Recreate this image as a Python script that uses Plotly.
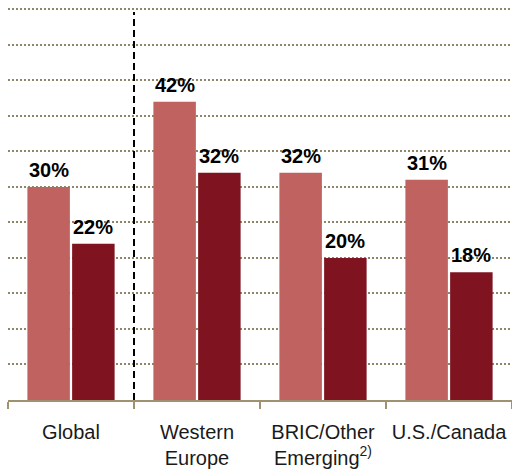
import plotly.graph_objects as go

categories = ["Global", "Western<br>Europe", "BRIC/Other<br>Emerging<sup>2)</sup>", "U.S./Canada"]
series_a = [30, 42, 32, 31]
series_b = [22, 32, 20, 18]
series_names = ["Series A", "Series B"]

light_red = "#C0625F"
dark_red = "#7F1420"
tan = "#A0926F"
grid_col = "#8E8666"

W, H = 512, 469
ml, mr, mt, mb = 8, 0, 8, 69
bargap = 0.29

fig = go.Figure()
fig.add_trace(go.Bar(x=categories, y=series_a, name=series_names[0],
                     marker_color=light_red, marker_line_width=0))
fig.add_trace(go.Bar(x=categories, y=series_b, name=series_names[1],
                     marker_color=dark_red, marker_line_width=0))

# value labels above each bar
cat_w = (W - ml - mr) / len(categories)
off = cat_w * (1 - bargap) / 4
annots = []
for vals, sh in ((series_a, -off), (series_b, off)):
    for c, v in zip(categories, vals):
        annots.append(dict(x=c, y=v, text=f"{v}%", showarrow=False,
                           xshift=sh, yshift=4, yanchor="bottom",
                           font=dict(family="Liberation Sans, Arial", size=20,
                                     color="black", weight="bold")))

fig.update_layout(
    width=W, height=H,
    margin=dict(l=ml, r=mr, t=mt, b=mb, pad=0, autoexpand=False),
    paper_bgcolor="white", plot_bgcolor="white",
    barmode="group", bargap=bargap, bargroupgap=0.05,
    showlegend=False,
    annotations=annots,
    shapes=[dict(type="line", xref="x", yref="paper", x0=0.5, x1=0.5,
                 y0=0, y1=0.99, line=dict(color="black", width=2, dash="7px,4px"))],
)
fig.update_xaxes(
    automargin=False,
    showline=True, linecolor=tan, linewidth=1.5,
    ticks="outside", tickson="boundaries", ticklen=7, tickcolor=tan, tickwidth=1.5,
    ticklabelstandoff=13,
    tickfont=dict(family="Liberation Sans, Arial", size=20, color="#1a1a1a"),
    showgrid=False,
)
fig.update_yaxes(
    automargin=False,
    range=[0, 55.2], dtick=5, showticklabels=False, zeroline=False,
    showgrid=True, gridcolor=grid_col, gridwidth=2, griddash="2px,2px",
)

# drop the browser's default body margin so the figure fills the window
fig.write_html("out.html", config={"displayModeBar": False},
               post_script="document.body.style.margin='0';")
